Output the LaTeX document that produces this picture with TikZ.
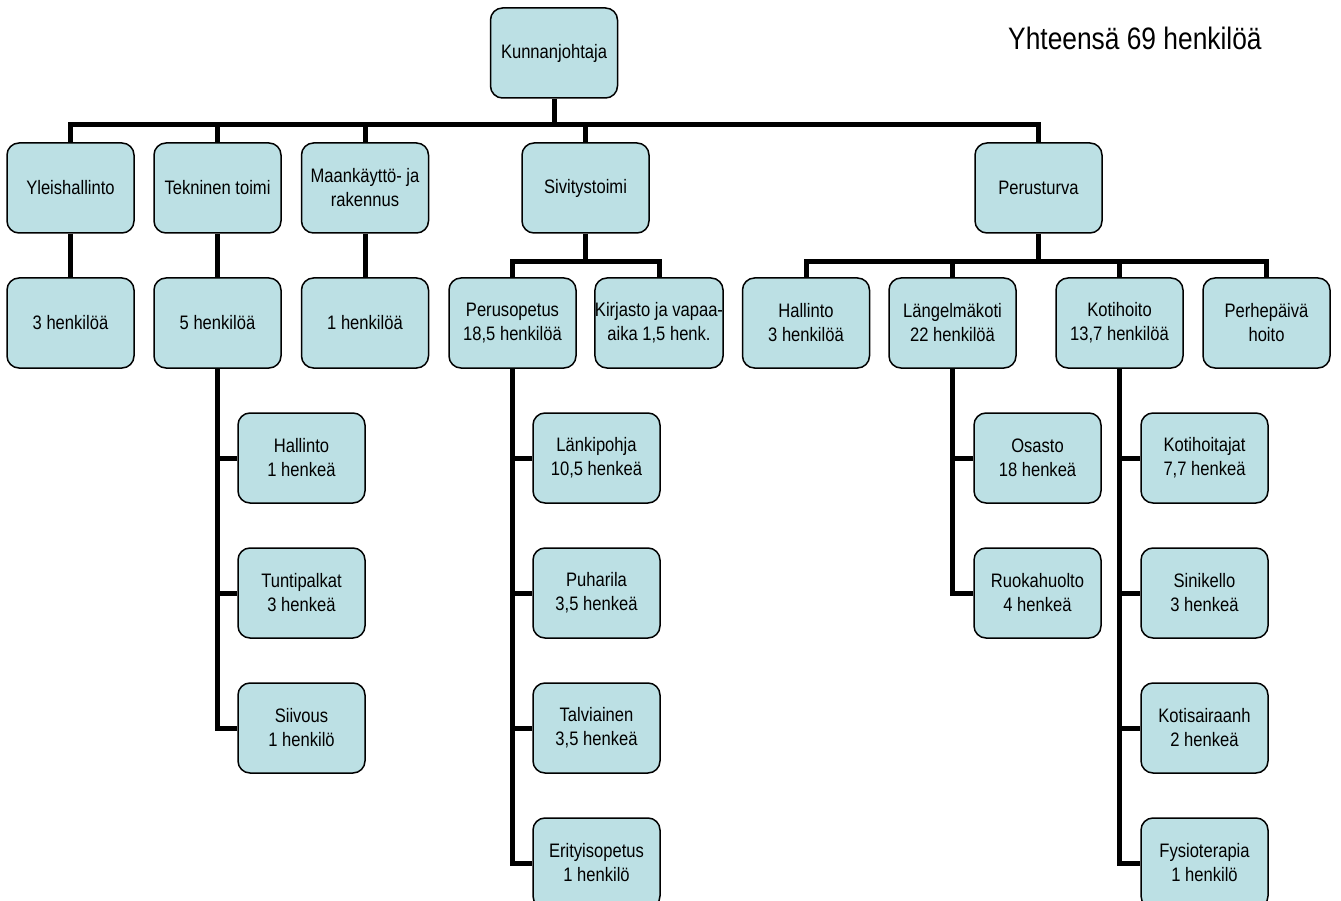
\documentclass[tikz,border=0pt]{standalone}
\usepackage{fontspec}
\setmainfont{Liberation Sans}[FakeStretch=0.85]
\usetikzlibrary{backgrounds}
\definecolor{boxfill}{RGB}{188,224,228}
\tikzset{
  orgbox/.style={draw=black, line width=1.5pt, rounded corners=12pt, fill=boxfill,
    minimum width=127pt, minimum height=90pt, inner sep=0pt, align=center,
    font=\fontsize{19.5}{24}\selectfont, text=black},
  conn/.style={line width=5pt, draw=black, line join=miter}
}
\begin{document}
\begin{tikzpicture}[x=1pt,y=-1pt]
\useasboundingbox (0,0) rectangle (1341,901);
% level 0
\node[orgbox] (k) at (554,53) {Kunnanjohtaja};
% level 1
\node[orgbox] (yl) at (70.5,188) {Yleishallinto};
\node[orgbox] (tk) at (217.5,188) {Tekninen toimi};
\node[orgbox] (mk) at (365,188) {Maankäyttö- ja\\rakennus};
\node[orgbox] (si) at (585.5,188) {Sivitystoimi};
\node[orgbox] (pt) at (1038.5,188) {Perusturva};
% level 2
\node[orgbox] (yl2) at (70.5,323) {3 henkilöä};
\node[orgbox] (tk2) at (217.5,323) {5 henkilöä};
\node[orgbox] (mk2) at (365,323) {1 henkilöä};
\node[orgbox] (po) at (512.5,323) {Perusopetus\\18,5 henkilöä};
\node[orgbox] (kj) at (659,323) {Kirjasto ja vapaa-\\aika 1,5 henk.};
\node[orgbox] (ha) at (806,323) {Hallinto\\3 henkilöä};
\node[orgbox] (lk) at (952.5,323) {Längelmäkoti\\22 henkilöä};
\node[orgbox] (kh) at (1119.5,323) {Kotihoito\\13,7 henkilöä};
\node[orgbox] (pp) at (1266.5,323) {Perhepäivä\\hoito};
% level 3: Tekninen
\node[orgbox] (t1) at (301.5,458) {Hallinto\\1 henkeä};
\node[orgbox] (t2) at (301.5,593) {Tuntipalkat\\3 henkeä};
\node[orgbox] (t3) at (301.5,728) {Siivous\\1 henkilö};
% level 3: Perusopetus
\node[orgbox] (p1) at (596.5,458) {Länkipohja\\10,5 henkeä};
\node[orgbox] (p2) at (596.5,593) {Puharila\\3,5 henkeä};
\node[orgbox] (p3) at (596.5,728) {Talviainen\\3,5 henkeä};
\node[orgbox] (p4) at (596.5,863) {Erityisopetus\\1 henkilö};
% level 3: Längelmäkoti
\node[orgbox] (l1) at (1037.5,458) {Osasto\\18 henkeä};
\node[orgbox] (l2) at (1037.5,593) {Ruokahuolto\\4 henkeä};
% level 3: Kotihoito
\node[orgbox] (h1) at (1204.5,458) {Kotihoitajat\\7,7 henkeä};
\node[orgbox] (h2) at (1204.5,593) {Sinikello\\3 henkeä};
\node[orgbox] (h3) at (1204.5,728) {Kotisairaanh\\2 henkeä};
\node[orgbox] (h4) at (1204.5,863) {Fysioterapia\\1 henkilö};
% title
\node[anchor=base west, inner sep=0pt, font=\fontsize{31}{36}\selectfont] (title) at (1008,50) {Yhteensä 69 henkilöä};
\begin{pgfonlayer}{background}
\coordinate (b0) at (0,125);
\coordinate (b1) at (0,262);
% main bus
\draw[conn] (yl.north) -- (yl.north |- b0) -- (pt.north |- b0) -- (pt.north);
\draw[conn] (k.south) -- (k.south |- b0);
\foreach \n in {tk,mk,si} \draw[conn] (\n.north) -- (\n.north |- b0);
% level1 -> level2 single
\draw[conn] (yl.south) -- (yl2.north);
\draw[conn] (tk.south) -- (tk2.north);
\draw[conn] (mk.south) -- (mk2.north);
% Sivitystoimi bus
\draw[conn] (po.north) -- (po.north |- b1) -- (kj.north |- b1) -- (kj.north);
\draw[conn] (si.south) -- (si.south |- b1);
% Perusturva bus
\draw[conn] (ha.north) -- (ha.north |- b1) -- (pp.north |- b1) -- (pp.north);
\draw[conn] (pt.south) -- (pt.south |- b1);
\foreach \n in {lk,kh} \draw[conn] (\n.north) -- (\n.north |- b1);
% vertical sub lists
\foreach \n in {t1,t2,t3} \draw[conn] (tk2.south) |- (\n.west);
\foreach \n in {p1,p2,p3,p4} \draw[conn] (po.south) |- (\n.west);
\foreach \n in {l1,l2} \draw[conn] (lk.south) |- (\n.west);
\foreach \n in {h1,h2,h3,h4} \draw[conn] (kh.south) |- (\n.west);
\end{pgfonlayer}
\end{tikzpicture}
\end{document}
